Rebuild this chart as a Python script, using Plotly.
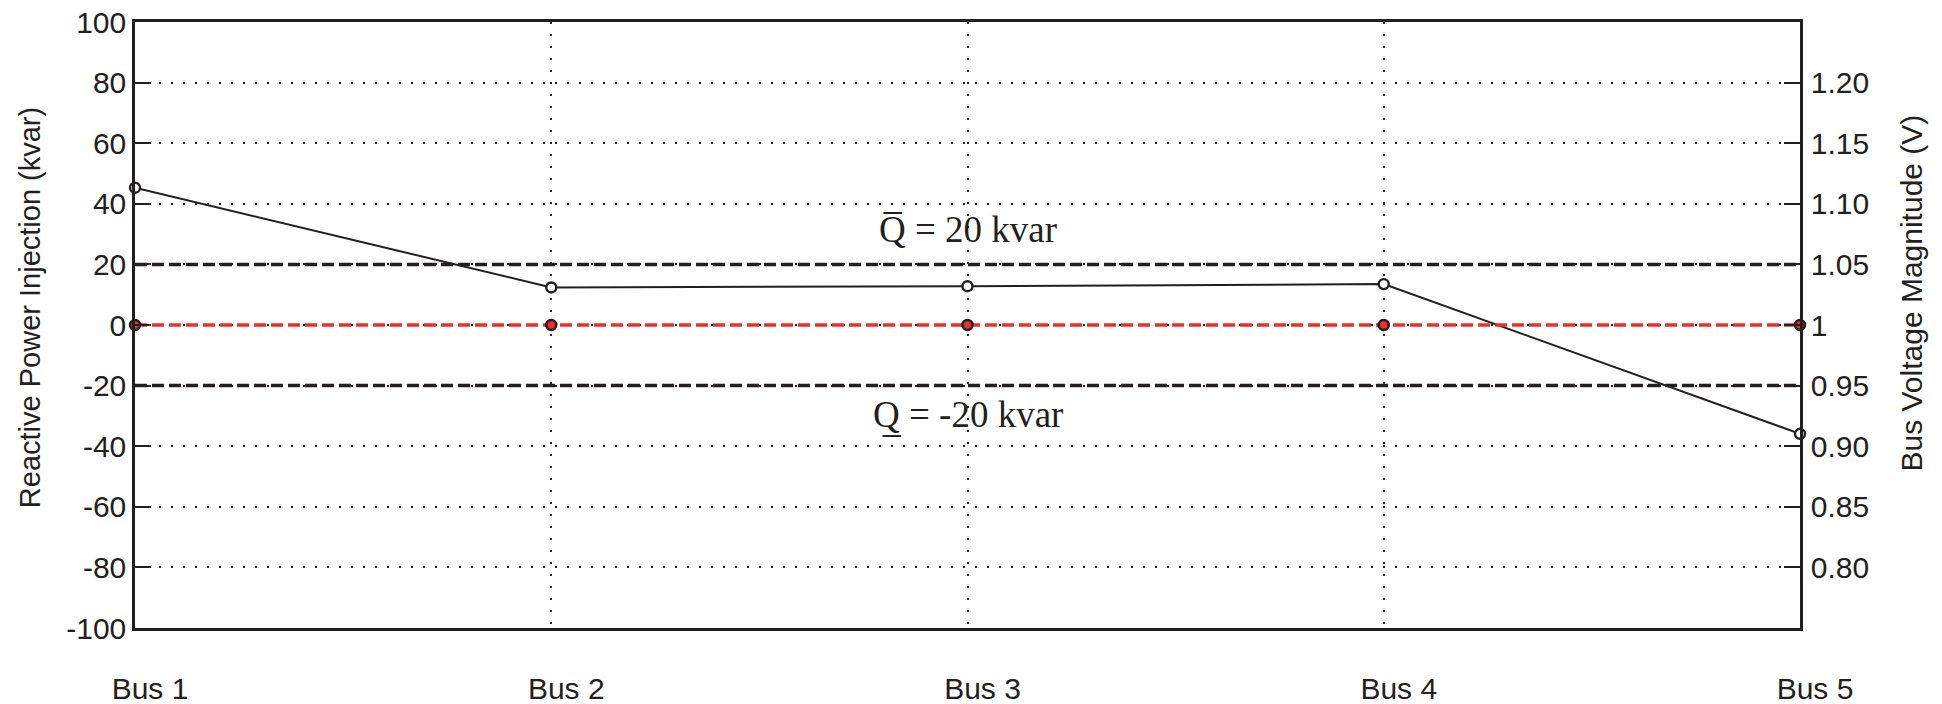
import plotly.graph_objects as go

buses = ["Bus 1", "Bus 2", "Bus 3", "Bus 4", "Bus 5"]
q_injection = [45.3, 12.4, 12.8, 13.5, -35.9]      # kvar
q_upper = [20, 20, 20, 20, 20]                      # kvar limit
q_lower = [-20, -20, -20, -20, -20]                 # kvar limit
voltage = [1.0, 1.0, 1.0, 1.0, 1.0]                 # V
q_ticks = [-100, -80, -60, -40, -20, 0, 20, 40, 60, 80, 100]
q_ticktext = ["-100", "-80", "-60", "-40", "-20", "0", "20", "40", "60", "80", "100"]
v_ticks = [0.80, 0.85, 0.90, 0.95, 1.00, 1.05, 1.10, 1.15, 1.20]
v_ticktext = ["0.80", "0.85", "0.90", "0.95", "1", "1.05", "1.10", "1.15", "1.20"]
q_upper_label = "Q\u0305 = 20 kvar"
q_lower_label = "Q\u0332 = -20 kvar"
left_title = "Reactive Power Injection (kvar)"
right_title = "Bus Voltage Magnitude (V)"

INK = "#231f20"
RED = "#ee2d2d"
SANS = "Liberation Sans, Arial, sans-serif"
SERIF = "Liberation Serif, Times New Roman, serif"

fig = go.Figure()

for lim in (q_upper, q_lower):
    fig.add_trace(go.Scatter(x=buses, y=lim, mode="lines",
                             line=dict(color=INK, width=3.5, dash="12px,5px"),
                             showlegend=False, hoverinfo="skip"))

fig.add_trace(go.Scatter(x=buses, y=voltage, yaxis="y2", mode="lines+markers",
                         line=dict(color=RED, width=3.5, dash="12px,5px"),
                         marker=dict(size=10, color=RED, line=dict(color=INK, width=2.5)),
                         cliponaxis=False, showlegend=False))

fig.add_trace(go.Scatter(x=buses, y=q_injection, mode="lines+markers",
                         line=dict(color=INK, width=2),
                         marker=dict(size=10, color="white", line=dict(color=INK, width=2.4)),
                         cliponaxis=False, showlegend=False))

fig.add_annotation(x=buses[2], y=q_upper[2], yref="y", text=q_upper_label,
                   showarrow=False, yanchor="bottom", yshift=12,
                   font=dict(family=SERIF, size=37, color=INK))
fig.add_annotation(x=buses[2], y=q_lower[2], yref="y", text=q_lower_label,
                   showarrow=False, yanchor="top", yshift=-6,
                   font=dict(family=SERIF, size=37, color=INK))

# axis titles (placed as annotations to match the original offsets)
fig.add_annotation(xref="paper", yref="paper", x=-0.063, y=0.528, text=left_title,
                   textangle=-90, showarrow=False, xanchor="center", yanchor="middle",
                   font=dict(family=SANS, size=29, color=INK))
fig.add_annotation(xref="paper", yref="paper", x=1.0667, y=0.552, text=right_title,
                   textangle=-90, showarrow=False, xanchor="center", yanchor="middle",
                   font=dict(family=SANS, size=30, color=INK))

fig.update_layout(
    width=1942, height=704,
    margin=dict(l=135, r=142, t=22, b=76),
    paper_bgcolor="white", plot_bgcolor="white",
    font=dict(family=SANS, color=INK),
    xaxis=dict(type="category", range=[0, 4], showline=True, mirror=True,
               linecolor=INK, linewidth=2.5, ticks="",
               showgrid=True, gridcolor=INK, gridwidth=1.5, griddash="2px,10px",
               tickfont=dict(size=30, family=SANS, color=INK),
               ticklabelstandoff=32, ticklabelshift=15, ticklabeloverflow="allow",
               automargin=False),
    yaxis=dict(range=[-100, 100], tickvals=q_ticks, ticktext=q_ticktext,
               showline=True, mirror=True,
               linecolor=INK, linewidth=2.5, ticks="inside", ticklen=16,
               tickwidth=2, tickcolor=INK, zeroline=False,
               showgrid=True, gridcolor=INK, gridwidth=1.5, griddash="2px,10px",
               tickfont=dict(size=30, family=SANS, color=INK),
               ticklabeloverflow="allow", automargin=False),
    yaxis2=dict(range=[0.75, 1.25], overlaying="y", side="right",
                tickvals=v_ticks, ticktext=v_ticktext, showline=True,
                linecolor=INK, linewidth=2.5, ticks="inside", ticklen=16,
                tickwidth=2, tickcolor=INK, zeroline=False, showgrid=False,
                tickfont=dict(size=30, family=SANS, color=INK),
                ticklabelstandoff=2, ticklabeloverflow="allow", automargin=False),
)

fig.write_html("out.html", config={"displayModeBar": False},
               post_script="document.body.style.margin='0';")
